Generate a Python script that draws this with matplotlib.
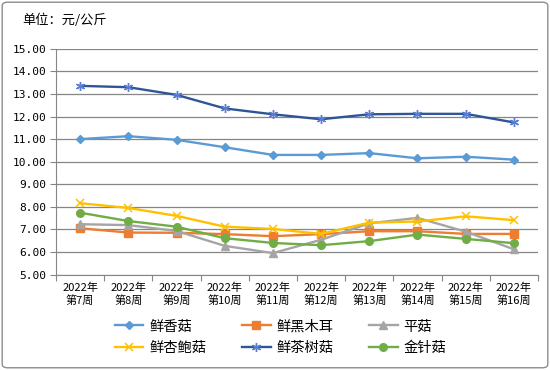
import matplotlib
matplotlib.use("Agg")
import matplotlib.pyplot as plt
from matplotlib.patches import FancyBboxPatch

plt.rcParams["font.family"] = ["Noto Sans CJK SC", "DejaVu Sans"]

weeks = ["2022年\n第7周", "2022年\n第8周", "2022年\n第9周", "2022年\n第10周", "2022年\n第11周",
         "2022年\n第12周", "2022年\n第13周", "2022年\n第14周", "2022年\n第15周", "2022年\n第16周"]

xianggu = [11.00, 11.13, 10.97, 10.64, 10.30, 10.30, 10.38, 10.15, 10.22, 10.09]
heimuer = [7.05, 6.86, 6.85, 6.79, 6.70, 6.79, 6.92, 6.92, 6.80, 6.80]
pinggu = [7.23, 7.19, 6.93, 6.27, 5.95, 6.54, 7.27, 7.51, 6.90, 6.12]
xingbaogu = [8.16, 7.95, 7.60, 7.12, 7.02, 6.80, 7.30, 7.35, 7.58, 7.41]
chashugu = [13.36, 13.30, 12.96, 12.36, 12.10, 11.88, 12.10, 12.12, 12.12, 11.74]
jinzhengu = [7.74, 7.37, 7.12, 6.61, 6.40, 6.30, 6.48, 6.77, 6.58, 6.39]

fig = plt.figure(figsize=(5.5, 3.7), dpi=100)
ax = fig.add_axes([0.102, 0.258, 0.876, 0.61])

x = list(range(len(weeks)))
lw = 1.7
l1, = ax.plot(x, xianggu, color="#5B9BD5", lw=lw, marker="D", ms=4.5, label="鲜香菇")
l2, = ax.plot(x, heimuer, color="#ED7D31", lw=lw, marker="s", ms=5.5, label="鲜黑木耳")
l3, = ax.plot(x, pinggu, color="#A5A5A5", lw=lw, marker="^", ms=6, label="平菇")
l4, = ax.plot(x, xingbaogu, color="#FFC000", lw=lw, marker="x", ms=5.5, mew=1.1, label="鲜杏鲍菇")
l5, = ax.plot(x, chashugu, color="#2F5597", lw=lw, marker=(6, 2, 0), ms=6.5, mew=1.0,
              mec="#5B7FD0", label="鲜茶树菇")
l6, = ax.plot(x, jinzhengu, color="#70AD47", lw=lw, marker="o", ms=5.5, label="金针菇")

ax.set_xlim(-0.5, len(weeks) - 0.5)
ax.set_ylim(5, 15)
ax.set_yticks(range(5, 16))
ax.set_yticklabels([f"{v:.2f}" for v in range(5, 16)], fontsize=8, family="DejaVu Sans Mono")
ax.set_xticks([i - 0.5 for i in range(len(weeks) + 1)])
ax.set_xticklabels([])
ax.set_xticks(x, minor=True)
ax.set_xticklabels(weeks, minor=True, fontsize=8, linespacing=1.25)
ax.tick_params(axis="x", which="minor", length=0, pad=6)
ax.tick_params(axis="x", which="major", length=4, color="#868686")
ax.tick_params(axis="y", length=4, color="#868686", pad=3)
ax.grid(axis="y", color="#868686", lw=0.9)
ax.set_axisbelow(True)
for side in ["top", "right"]:
    ax.spines[side].set_visible(False)
for side in ["left", "bottom"]:
    ax.spines[side].set_color("#868686")

fig.text(0.04, 0.945, "单位：元/公斤", fontsize=9.5, va="center", ha="left")

fig.legend([l1, l4, l2, l5, l3, l6],
           ["鲜香菇", "鲜杏鲍菇", "鲜黑木耳", "鲜茶树菇", "平菇", "金针菇"],
           ncol=3, loc="center", bbox_to_anchor=(0.51, 0.088), frameon=False,
           fontsize=10.3, handlelength=2.0, columnspacing=2.5, labelspacing=0.55,
           handletextpad=0.4)

border = FancyBboxPatch((0.004, 0.006), 0.992, 0.988, boxstyle="round,pad=0,rounding_size=0.01",
                        transform=fig.transFigure, fill=False, ec="#8C8C8C", lw=1.0)
fig.patches.append(border)

fig.savefig("out.png", dpi=100)
